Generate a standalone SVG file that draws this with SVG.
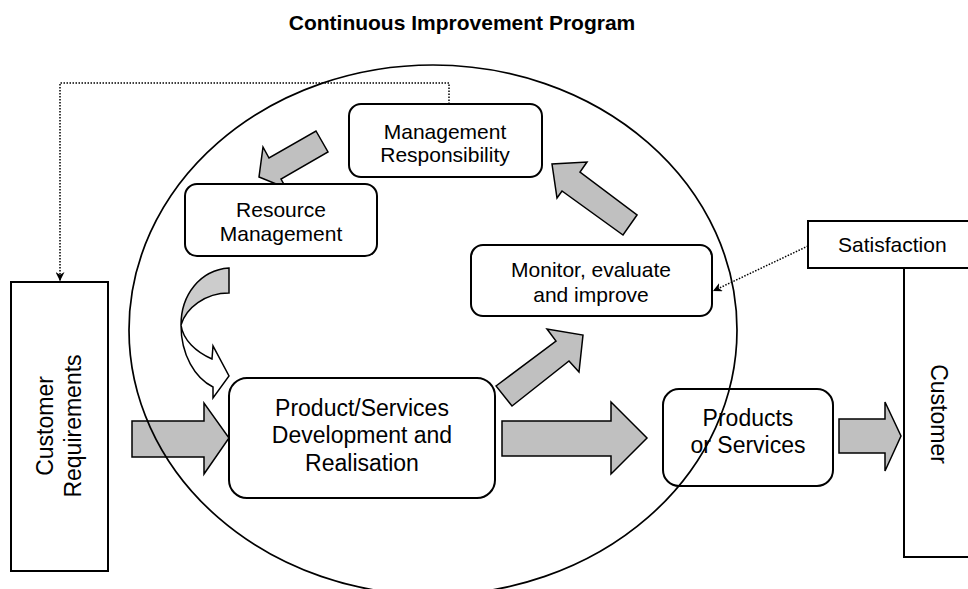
<svg xmlns="http://www.w3.org/2000/svg" width="968" height="589" viewBox="0 0 968 589">
<defs>
<style>
.box{fill:#fff;stroke:#000;stroke-width:2}
.arr{fill:#c0c0c0;stroke:#000;stroke-width:1.5;stroke-linejoin:miter}
.t{font-family:"Liberation Sans",Arial,sans-serif;font-size:21px;fill:#000;text-anchor:middle}
.tl{font-family:"Liberation Sans",Arial,sans-serif;font-size:23px;fill:#000;text-anchor:middle}
.dot{fill:none;stroke:#000;stroke-width:1.5;stroke-dasharray:1.5 1.5}
</style>
<marker id="ah" viewBox="0 0 10 10" refX="10" refY="5" markerWidth="9" markerHeight="9" markerUnits="userSpaceOnUse" orient="auto">
<path d="M0,0 L10,5 L0,10 L3,5 Z" fill="#000"/>
</marker>
</defs>
<rect width="968" height="589" fill="#fff"/>
<text x="462" y="30" style="font-family:'Liberation Sans',Arial,sans-serif;font-size:21px;font-weight:bold;text-anchor:middle">Continuous Improvement Program</text>

<g id="connectors">
<path class="dot" d="M449,104 V83 H60 V281" marker-end="url(#ah)"/>
<path class="dot" d="M808,246 L713,291" marker-end="url(#ah)"/>
<polygon class="arr" points="316,131 328,152 281,179 286,188 259,177 263,147 269,158"/>
<polygon class="arr" points="637,215 623,235 562,191 557,198 552,164 587,162 580,172"/>
<polygon class="arr" points="496,386 556,341 547,329 583,335 579,372 569,361 512,406"/>
<polygon class="arr" points="132,421 204,421 204,403 229,438 204,474 204,457 132,457"/>
<polygon class="arr" points="502,421 611,421 611,402 647,438 611,474 611,456 502,456"/>
<polygon class="arr" points="839,419 885,419 885,402 901,436 885,471 885,453 839,453"/>
<path d="M229,268 C200,270 181,295 181,325 C186,308 205,293 229,293 Z" fill="#cccccc" stroke="#000" stroke-width="1.5"/>
<path d="M181,325 C181,355 195,378 213,387 L213,398 L229,376 L213,346 L212,359 C196,352 183,340 181,325 Z" fill="#fff" stroke="#000" stroke-width="1.5"/>
</g>

<g id="customer-requirements">
<rect class="box" x="11" y="282" width="97" height="289"/>
<text class="tl" transform="translate(53,426) rotate(-90)">Customer</text>
<text class="tl" transform="translate(81,426) rotate(-90)">Requirements</text>
</g>
<g id="management-responsibility">
<rect class="box" x="349" y="104" width="193" height="73" rx="12"/>
<text class="t" x="445" y="139">Management</text>
<text class="t" x="445" y="162">Responsibility</text>
</g>
<g id="resource-management">
<rect class="box" x="185" y="184" width="192" height="72" rx="12"/>
<text class="t" x="281" y="217">Resource</text>
<text class="t" x="281" y="241">Management</text>
</g>
<g id="monitor">
<rect class="box" x="471" y="245" width="241" height="71" rx="12"/>
<text class="t" x="591" y="277">Monitor, evaluate</text>
<text class="t" x="591" y="302">and improve</text>
</g>
<g id="product-services">
<rect class="box" x="229" y="378" width="266" height="120" rx="18"/>
<text class="tl" x="362" y="416">Product/Services</text>
<text class="tl" x="362" y="443">Development and</text>
<text class="tl" x="362" y="471">Realisation</text>
</g>
<g id="products">
<rect class="box" x="663" y="389" width="170" height="97" rx="16"/>
<text class="tl" x="748" y="426">Products</text>
<text class="tl" x="748" y="453">or Services</text>
</g>
<g id="satisfaction">
<rect class="box" x="808" y="221" width="170" height="47"/>
<text class="t" x="838" y="252" style="text-anchor:start">Satisfaction</text>
</g>
<g id="customer">
<rect class="box" x="904" y="268" width="100" height="289"/>
<text class="tl" transform="translate(931,414) rotate(90)">Customer</text>
</g>
<g id="program">
<ellipse cx="433" cy="330" rx="304" ry="265" fill="none" stroke="#000" stroke-width="1.7"/>
</g>
</svg>
